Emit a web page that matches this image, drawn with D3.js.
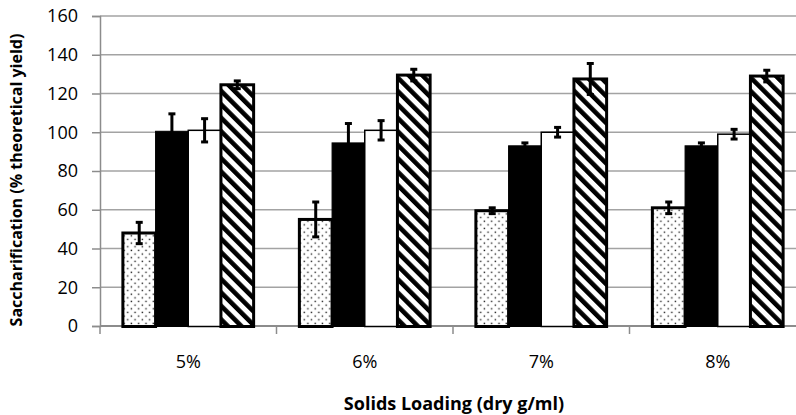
<!DOCTYPE html>
<html>
<head>
<meta charset="utf-8">
<script src="https://cdn.jsdelivr.net/npm/d3@7"></script>
<style>
  body { margin: 0; background: #fff; }
  text { font-family: "Open Sans", sans-serif; fill: #000; }
</style>
</head>
<body>
<div id="chart"></div>
<script>
var width = 796,
  height = 415;

// data
var categories = ["5%", "6%", "7%", "8%"];
var series = ["s1", "s2", "s3", "s4"];
var values = [
  [48, 100.5, 101, 124.5],
  [55, 94.5, 101, 129.5],
  [59.5, 93, 100, 127.5],
  [61, 93, 99, 129]
];
var errors = [
  [5.5, 9, 6, 2],
  [9, 10, 5, 3],
  [1.5, 1.5, 2.5, 8],
  [3, 1.5, 2.5, 3]
];
var yTicks = [0, 20, 40, 60, 80, 100, 120, 140, 160];

var margin = {left: 100, top: 16, bottom: 89};
var plotRight = 806;

var svg = d3.select("#chart").append("svg")
  .attr("width", width)
  .attr("height", height);

var defs = svg.append("defs");

var dots = defs.append("pattern")
  .attr("id", "dots")
  .attr("patternUnits", "userSpaceOnUse")
  .attr("width", 7.3)
  .attr("height", 7.3);
dots.append("rect").attr("width", 7.3).attr("height", 7.3).attr("fill", "#fff");
dots.append("rect").attr("x", 1.5).attr("y", 1.5).attr("width", 1.4).attr("height", 1.4).attr("fill", "#222");
dots.append("rect").attr("x", 5.15).attr("y", 5.15).attr("width", 1.4).attr("height", 1.4).attr("fill", "#222");

var hatch = defs.append("pattern")
  .attr("id", "hatch")
  .attr("patternUnits", "userSpaceOnUse")
  .attr("width", 9.5)
  .attr("height", 9.5)
  .attr("patternTransform", "rotate(-45)");
hatch.append("rect").attr("width", 9.5).attr("height", 9.5).attr("fill", "#fff");
hatch.append("rect").attr("width", 4.6).attr("height", 9.5).attr("fill", "#000");

var fills = ["url(#dots)", "#000", "#fff", "url(#hatch)"];
var strokeW = [3, 1, 1.5, 3];

var x = d3.scaleBand()
  .domain(categories)
  .range([margin.left, plotRight]);

var xs = d3.scaleBand()
  .domain(series)
  .range([0, x.bandwidth()])
  .paddingOuter(0.7);

var y = d3.scaleLinear()
  .domain([0, 160])
  .range([height - margin.bottom, margin.top]);

// gridlines
svg.append("g")
  .selectAll("line")
  .data(yTicks.slice(1))
  .enter().append("line")
  .attr("x1", margin.left)
  .attr("x2", plotRight)
  .attr("y1", function(d) { return y(d); })
  .attr("y2", function(d) { return y(d); })
  .attr("stroke", "#a3a3a3")
  .attr("stroke-width", 1.3);

// y axis
var yAxis = svg.append("g")
  .attr("transform", "translate(" + margin.left + ",0)")
  .call(d3.axisLeft(y).tickValues(yTicks).tickSize(8).tickPadding(14));
yAxis.select(".domain").attr("stroke", "#8c8c8c").attr("stroke-width", 1.5);
yAxis.selectAll(".tick line").attr("stroke", "#8c8c8c").attr("stroke-width", 1.5);
yAxis.selectAll("text").style("font-size", "18px").attr("fill", "#000");

// x axis (drawn under the bars)
var baseY = y(0);
svg.append("line")
  .attr("x1", margin.left).attr("x2", plotRight)
  .attr("y1", baseY).attr("y2", baseY)
  .attr("stroke", "#8c8c8c").attr("stroke-width", 1.8);

svg.append("g")
  .selectAll("line")
  .data(categories)
  .enter().append("line")
  .attr("x1", function(d) { return x(d); })
  .attr("x2", function(d) { return x(d); })
  .attr("y1", baseY)
  .attr("y2", baseY + 8)
  .attr("stroke", "#8c8c8c")
  .attr("stroke-width", 1.5);

svg.append("g")
  .selectAll("text")
  .data(categories)
  .enter().append("text")
  .attr("x", function(d) { return x(d) + x.bandwidth() / 2; })
  .attr("y", 368)
  .attr("text-anchor", "middle")
  .style("font-size", "18px")
  .text(function(d) { return d; });

// bars
var groups = svg.append("g")
  .selectAll("g")
  .data(values)
  .enter().append("g")
  .attr("transform", function(d, i) { return "translate(" + x(categories[i]) + ",0)"; });

groups.selectAll("rect")
  .data(function(d) { return d; })
  .enter().append("rect")
  .attr("x", function(d, j) { return xs(series[j]); })
  .attr("width", xs.bandwidth())
  .attr("y", function(d) { return y(d); })
  .attr("height", function(d) { return y(0) - y(d) + 0.5; })
  .attr("fill", function(d, j) { return fills[j]; })
  .attr("stroke", "#000")
  .attr("stroke-width", function(d, j) { return strokeW[j]; });

// error bars
var errG = svg.append("g");
values.forEach(function(row, i) {
  row.forEach(function(v, j) {
    var cx = x(categories[i]) + xs(series[j]) + xs.bandwidth() / 2;
    var e = errors[i][j];
    var g = errG.append("g").attr("stroke", "#000").attr("stroke-width", 3);
    g.append("line").attr("x1", cx).attr("x2", cx).attr("y1", y(v + e)).attr("y2", y(v - e));
    g.append("line").attr("x1", cx - 3.5).attr("x2", cx + 3.5).attr("y1", y(v + e)).attr("y2", y(v + e));
    g.append("line").attr("x1", cx - 3.5).attr("x2", cx + 3.5).attr("y1", y(v - e)).attr("y2", y(v - e));
  });
});

// titles
svg.append("text")
  .attr("x", 454)
  .attr("y", 410)
  .attr("text-anchor", "middle")
  .style("font-size", "18px")
  .style("font-weight", "bold")
  .text("Solids Loading (dry g/ml)");

svg.append("text")
  .attr("transform", "translate(22,180) rotate(-90)")
  .attr("text-anchor", "middle")
  .style("font-size", "16px")
  .style("font-weight", "bold")
  .text("Saccharification (% theoretical yield)");
</script>
</body>
</html>
